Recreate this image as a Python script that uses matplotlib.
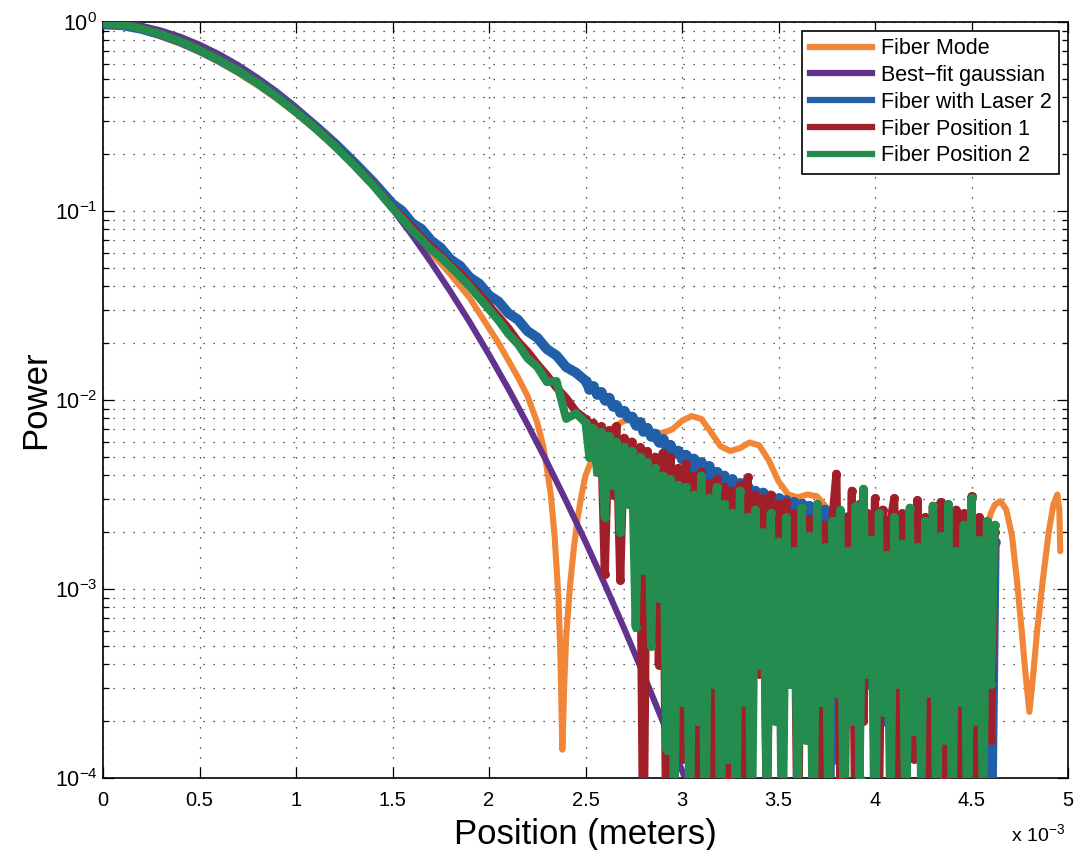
import numpy as np
import matplotlib
matplotlib.use("Agg")
import matplotlib.pyplot as plt
from matplotlib.lines import Line2D
from matplotlib.ticker import LogLocator, NullFormatter

plt.rcParams['font.family'] = ['Liberation Sans', 'DejaVu Sans']
plt.rcParams['mathtext.fontset'] = 'custom'
plt.rcParams['mathtext.rm'] = 'Liberation Sans'
plt.rcParams['mathtext.it'] = 'Liberation Sans'

# ---------------- data (x in units of 1e-3 m, power as log10 values) ----------------
fiber_x = np.concatenate([
    np.round(np.arange(0.0, 1.501, 0.1), 3),
    np.round(np.arange(1.55, 2.451, 0.05), 3),
    np.round(np.arange(2.50, 4.621, 0.02), 3),
])

laser2_log10 = [
    -0.012, -0.017, -0.036, -0.065, -0.101, -0.146, -0.197, -0.254, -0.318, -0.389,
    -0.467, -0.551, -0.642, -0.742, -0.847, -0.962,
    -1.000, -1.063, -1.095, -1.156, -1.195, -1.256, -1.290, -1.351, -1.385, -1.446,
    -1.480, -1.541, -1.575, -1.636, -1.670, -1.731, -1.765, -1.826, -1.855,
    -1.898, -1.940, -1.928, -1.970, -1.958, -2.000, -1.988, -2.030, -2.028, -2.062,
    -2.058, -2.092, -2.088, -2.132, -2.118, -2.162, -2.148, -2.192, -2.178, -2.222,
    -2.208, -2.252, -2.238, -2.282, -2.268, -2.312, -2.290, -2.400, -2.310, -2.450,
    -2.330, -2.500, -2.350, -2.550, -2.380, -2.550, -2.400, -2.620, -2.420, -2.600,
    -2.440, -2.680, -2.460, -2.660, -2.480, -2.750, -2.490, -2.720, -2.510, -2.800,
    -2.520, -2.780, -2.530, -2.850, -2.540, -2.900, -2.550, -3.000, -2.560, -3.200,
    -2.570, -3.400, -2.580, -4.500, -2.600, -3.900, -2.610, -3.300, -2.620, -3.600,
    -2.630, -3.200, -2.640, -3.500, -2.640, -3.100, -2.650, -3.700, -2.660, -3.300,
    -2.670, -3.500, -2.670, -3.200, -2.680, -3.800, -2.690, -3.400, -2.690, -3.600,
    -2.700, -3.300, -2.700, -4.500, -2.710, -3.500, -2.720, -3.200, -2.720, -3.700,
    -2.730, -3.400, -2.740, -3.600, -2.740, -4.500, -2.750,
]

pos1_log10 = [
    -0.010, -0.014, -0.033, -0.063, -0.100, -0.145, -0.197, -0.255, -0.320, -0.393,
    -0.472, -0.558, -0.651, -0.752, -0.860, -0.980,
    -1.030, -1.085, -1.140, -1.190, -1.235, -1.285, -1.330, -1.385, -1.440, -1.500,
    -1.560, -1.620, -1.690, -1.745, -1.810, -1.870, -1.935, -1.990, -2.060,
    -2.10, -2.22, -2.12, -2.30, -2.14, -2.92, -2.16, -2.50, -2.14, -2.95,
    -2.20, -2.45, -2.22, -2.70, -2.25, -4.50, -2.27, -3.00, -2.30, -3.40,
    -2.28, -4.50, -2.30, -3.30, -2.36, -3.90, -2.34, -3.50, -2.40, -4.20,
    -2.38, -3.70, -2.44, -4.50, -2.42, -3.60, -2.46, -4.00, -2.48, -3.50,
    -2.45, -4.50, -2.41, -3.80, -2.50, -3.45, -2.52, -4.30, -2.50, -3.60,
    -2.55, -4.10, -2.54, -3.50, -2.60, -4.50, -2.58, -3.70, -2.63, -3.40,
    -2.60, -4.50, -2.66, -3.60, -2.62, -2.39, -4.00, -2.62, -3.50, -2.48,
    -4.50, -2.55, -3.70, -2.60, -3.40, -2.52, -4.20, -2.58, -3.55, -2.64,
    -2.52, -4.50, -2.60, -3.60, -2.66, -3.90, -2.53, -3.45, -2.62, -4.50,
    -2.56, -3.70, -2.54, -4.00, -2.64, -3.50, -2.58, -4.50, -2.60, -3.60,
    -2.51, -4.10, -2.62, -3.50, -2.68, -3.80, -2.70,
]

pos2_log10 = [
    -0.010, -0.015, -0.035, -0.065, -0.102, -0.148, -0.200, -0.258, -0.323, -0.396,
    -0.476, -0.562, -0.655, -0.757, -0.865, -0.985,
    -1.040, -1.100, -1.150, -1.205, -1.245, -1.295, -1.345, -1.400, -1.460, -1.520,
    -1.580, -1.650, -1.705, -1.780, -1.825, -1.905, -1.900, -2.100, -2.070,
    -2.12, -2.30, -2.15, -2.38, -2.17, -2.62, -2.19, -2.45, -2.22, -2.70,
    -2.25, -2.55, -2.27, -3.20, -2.30, -2.90, -2.33, -3.30, -2.36, -3.05,
    -2.40, -3.85, -2.42, -4.30, -2.45, -3.60, -2.46, -4.40, -2.50, -3.70,
    -2.40, -4.50, -2.52, -3.50, -2.46, -4.50, -2.55, -3.90, -2.60, -4.40,
    -2.48, -3.60, -2.62, -4.50, -2.58, -3.40, -2.70, -4.20, -2.60, -3.70,
    -2.75, -4.50, -2.62, -3.50, -2.80, -4.10, -2.57, -3.80, -2.72, -4.50,
    -2.55, -3.60, -2.78, -4.30, -2.64, -3.55, -2.58, -4.50, -2.80, -3.70,
    -2.56, -4.00, -2.47, -3.45, -2.74, -4.50, -2.60, -3.65, -2.82, -4.20,
    -2.62, -3.50, -2.76, -4.50, -2.57, -3.75, -2.78, -4.10, -2.64, -3.55,
    -2.56, -4.50, -2.72, -3.80, -2.55, -4.30, -2.80, -3.60, -2.66, -4.50,
    -2.52, -3.70, -2.74, -4.20, -2.64, -3.50, -2.66,
]

mode_x = [0.0, 0.1, 0.2, 0.3, 0.4, 0.5, 0.6, 0.7, 0.8, 0.9, 1.0, 1.1, 1.2, 1.3, 1.4,
          1.5, 1.6, 1.7, 1.8, 1.9, 2.0, 2.05, 2.1, 2.15, 2.2, 2.25, 2.28, 2.30, 2.32,
          2.34, 2.36, 2.37, 2.38, 2.39, 2.40, 2.42, 2.44, 2.46, 2.48, 2.50, 2.55, 2.60,
          2.65, 2.70, 2.75, 2.80, 2.85, 2.90, 2.95, 3.00, 3.05, 3.10, 3.15, 3.20, 3.25,
          3.30, 3.35, 3.40, 3.45, 3.50, 3.55, 3.60, 3.65, 3.70, 3.75, 3.80, 3.85, 3.90,
          3.95, 4.00, 4.10, 4.20, 4.30, 4.40, 4.50, 4.55, 4.58, 4.60, 4.62, 4.65, 4.68,
          4.71, 4.735, 4.76, 4.78, 4.80, 4.82, 4.84, 4.87, 4.90, 4.925, 4.945, 4.955,
          4.96]
mode_log10 = [-0.005, -0.020, -0.045, -0.077, -0.115, -0.160, -0.212, -0.270, -0.335,
              -0.406, -0.485, -0.570, -0.662, -0.762, -0.868, -0.982, -1.100, -1.220,
              -1.335, -1.460, -1.620, -1.700, -1.790, -1.880, -1.980, -2.120, -2.240,
              -2.360, -2.500, -2.720, -3.050, -3.350, -3.850, -3.500, -3.250, -2.980,
              -2.780, -2.620, -2.500, -2.400, -2.270, -2.190, -2.140, -2.110, -2.105,
              -2.130, -2.170, -2.175, -2.155, -2.110, -2.085, -2.100, -2.170, -2.245,
              -2.270, -2.255, -2.225, -2.240, -2.320, -2.430, -2.500, -2.515, -2.500,
              -2.510, -2.570, -2.630, -2.660, -2.660, -2.680, -2.700, -2.740, -2.760,
              -2.740, -2.720, -2.740, -2.720, -2.670, -2.600, -2.555, -2.535, -2.580,
              -2.720, -2.950, -3.220, -3.450, -3.650, -3.450, -3.220, -2.950, -2.700,
              -2.550, -2.500, -2.580, -2.800]

gauss_x = [0.0, 0.1, 0.2, 0.3, 0.4, 0.5, 0.6, 0.7, 0.8, 0.9, 1.0, 1.1, 1.2, 1.3, 1.4,
           1.5, 1.6, 1.7, 1.8, 1.9, 2.0, 2.1, 2.2, 2.3, 2.4, 2.5, 2.6, 2.7, 2.8, 2.9,
           3.0, 3.05]
gauss_log10 = [0.000, -0.005, -0.020, -0.045, -0.078, -0.120, -0.170, -0.228, -0.295,
               -0.368, -0.450, -0.540, -0.637, -0.745, -0.862, -0.990, -1.126, -1.272,
               -1.426, -1.588, -1.760, -1.940, -2.130, -2.328, -2.535, -2.750, -2.975,
               -3.208, -3.450, -3.700, -3.960, -4.095]

labels = ['Fiber Mode', 'Best\u2212fit gaussian', 'Fiber with Laser 2',
          'Fiber Position 1', 'Fiber Position 2']
colors = ['#F28638', '#62328F', '#2160A8', '#A11F29', '#248C4E']
xticks = [0, 0.5, 1, 1.5, 2, 2.5, 3, 3.5, 4, 4.5, 5]
xticklabels = ['0', '0.5', '1', '1.5', '2', '2.5', '3', '3.5', '4', '4.5', '5']

assert len(fiber_x) == len(laser2_log10) == len(pos1_log10) == len(pos2_log10), (
    len(fiber_x), len(laser2_log10), len(pos1_log10), len(pos2_log10))
assert len(mode_x) == len(mode_log10)
assert len(gauss_x) == len(gauss_log10)

# ---------------- figure ----------------
fig = plt.figure(figsize=(10.77, 8.5), dpi=100)
ax = fig.add_axes([103 / 1077, 1 - 778 / 850, (1068 - 103) / 1077, (778 - 22) / 850])
ax.set_yscale('log')

lw_smooth = 4.4
ax.plot(mode_x, 10 ** np.array(mode_log10), color=colors[0], lw=lw_smooth,
        solid_joinstyle='round', solid_capstyle='round', zorder=2)
ax.plot(gauss_x, 10 ** np.array(gauss_log10), color=colors[1], lw=lw_smooth,
        solid_joinstyle='round', solid_capstyle='round', zorder=3)

noisy_start = 35
for vals, c, z, lw, ms in [(laser2_log10, colors[2], 4, 7.2, 7.6),
                           (pos1_log10, colors[3], 5, 5.9, 6.5),
                           (pos2_log10, colors[4], 6, 5.9, 6.5)]:
    ax.plot(fiber_x, 10 ** np.array(vals), color=c, lw=lw, solid_capstyle='round',
            solid_joinstyle='round', marker='o', ms=ms, mew=0,
            markevery=list(range(noisy_start, len(fiber_x))), zorder=z)

ax.set_xlim(0, 5)
ax.set_ylim(1e-4, 1)
ax.set_xticks(xticks)
ax.set_xticklabels(xticklabels)
ax.yaxis.set_major_locator(LogLocator(base=10, numticks=10))
ax.yaxis.set_minor_locator(LogLocator(base=10, subs=np.arange(2, 10), numticks=20))
ax.yaxis.set_minor_formatter(NullFormatter())

grid_style = dict(color='#222222', linestyle=(0, (1, 7)), linewidth=0.9)
ax.grid(True, which='major', axis='x', **grid_style)
ax.grid(True, which='both', axis='y', **grid_style)
ax.set_axisbelow(True)

ax.tick_params(which='both', direction='in', top=True, right=True, width=0.9)
ax.tick_params(which='major', length=8)
ax.tick_params(which='minor', length=4)
ax.tick_params(axis='x', which='major', labelsize=14.5, pad=9)
ax.tick_params(axis='y', which='major', labelsize=15.5, pad=4)
for s in ax.spines.values():
    s.set_linewidth(1.2)

ax.set_xlabel('Position (meters)', fontsize=25, labelpad=6)
ax.set_ylabel('Power', fontsize=25, labelpad=2)
fig.text(1011 / 1077, 1 - 834 / 850, r'x 10$^{-3}$', fontsize=14, ha='left', va='center')

handles = [Line2D([], [], color=c, lw=4.5) for c in colors]
leg = ax.legend(handles, labels, loc='upper right', fontsize=15.5, frameon=True,
                fancybox=False, framealpha=1, edgecolor='black', handlelength=2.9,
                borderaxespad=0.4, labelspacing=0.27, handletextpad=0.4,
                borderpad=0.35)
leg.get_frame().set_linewidth(1.2)

fig.savefig('out.png', dpi=100)
